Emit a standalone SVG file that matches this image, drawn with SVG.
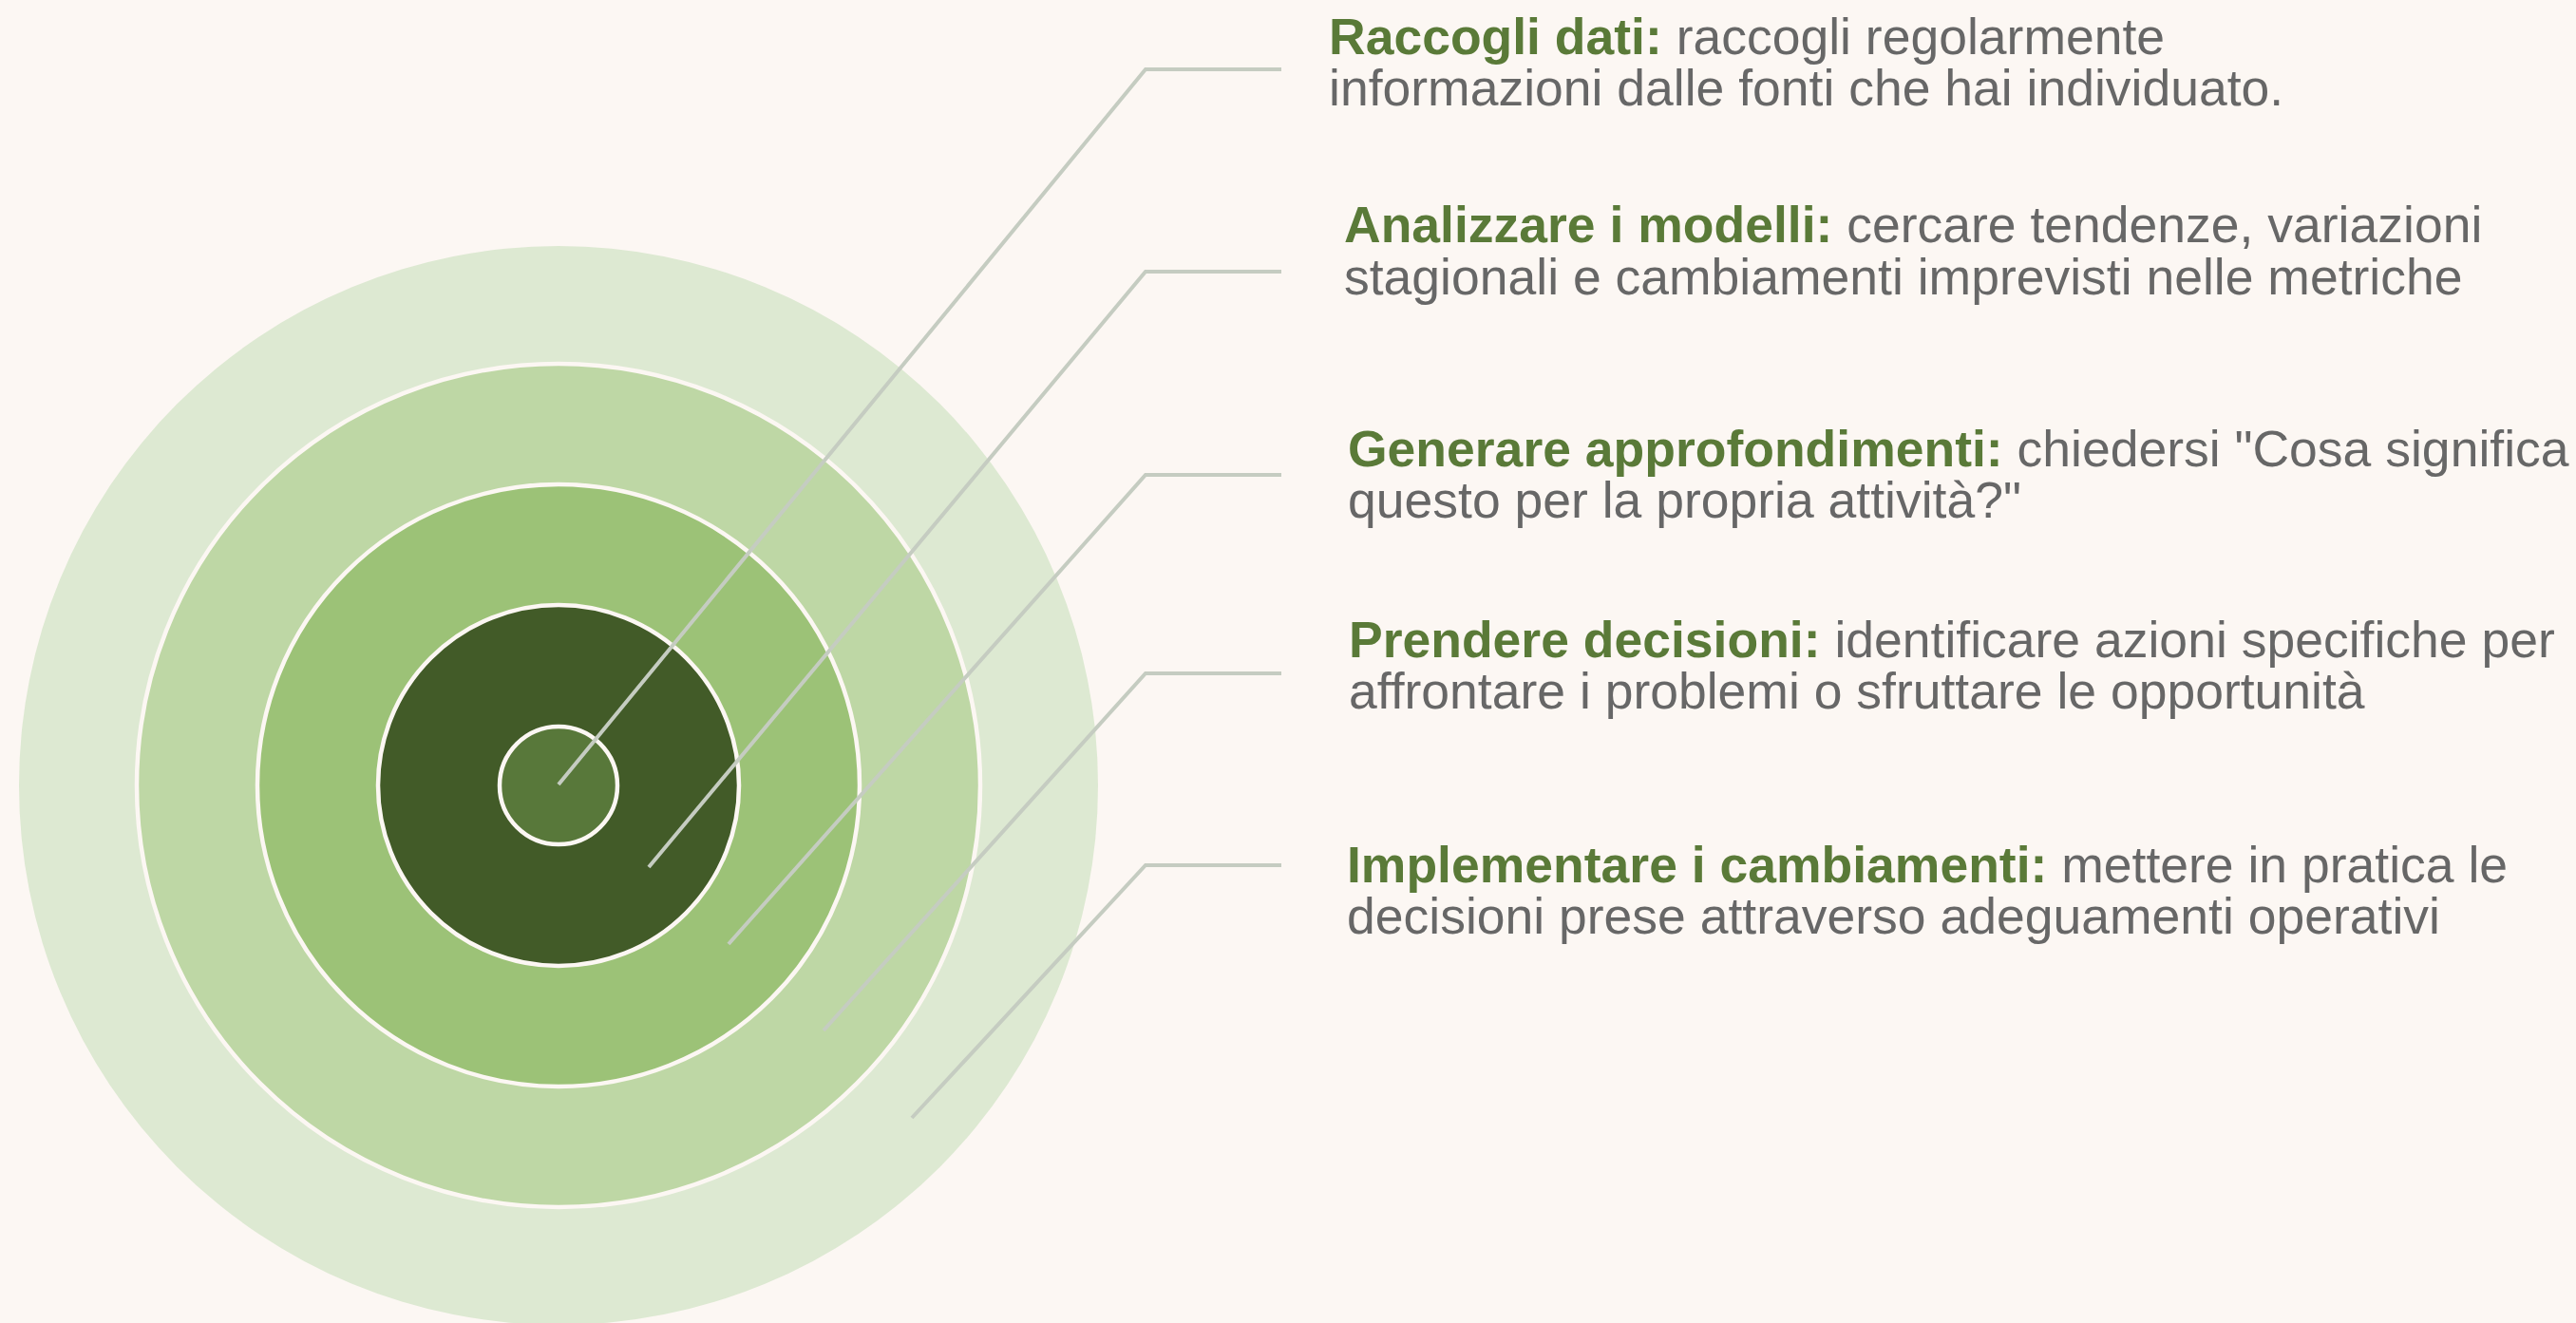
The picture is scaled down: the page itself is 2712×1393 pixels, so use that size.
<svg xmlns="http://www.w3.org/2000/svg" width="2712" height="1393" viewBox="0 0 2712 1393">
<style>
.ring{stroke:#fcf7f3;stroke-width:4.5}
.conn{fill:none;stroke:#c5ccc1;stroke-width:4;stroke-linejoin:miter}
.txt{font-family:"Liberation Sans",Arial,sans-serif;font-size:53.5px;fill:#676767}
.hd{font-weight:bold;fill:#5a7a38}
</style>
<rect width="2712" height="1393" fill="#fcf7f3"/>
<g id="rings">
<circle id="ring5" cx="588" cy="827" r="568" fill="#dde9d2"/>
<circle id="ring4" class="ring" cx="588" cy="827" r="444" fill="#bed7a5"/>
<circle id="ring3" class="ring" cx="588" cy="827" r="317" fill="#9cc277"/>
<circle id="ring2" class="ring" cx="588" cy="827" r="190" fill="#425b28"/>
<circle id="ring1" class="ring" cx="588" cy="827" r="62" fill="#58783a"/>
</g>
<g id="connectors">
<polyline class="conn" points="588,826 1206,73 1349,73"/>
<polyline class="conn" points="683,913 1206,286 1349,286"/>
<polyline class="conn" points="767,994 1206,500 1349,500"/>
<polyline class="conn" points="867,1085 1206,709 1349,709"/>
<polyline class="conn" points="960,1177 1206,911 1349,911"/>
</g>
<g id="label1" class="txt">
<text x="1399" y="57"><tspan class="hd">Raccogli dati:</tspan> raccogli regolarmente</text>
<text x="1399" y="111">informazioni dalle fonti che hai individuato.</text>
</g>
<g id="label2" class="txt">
<text x="1415" y="254.5"><tspan class="hd">Analizzare i modelli:</tspan> cercare tendenze, variazioni</text>
<text x="1415" y="309.5">stagionali e cambiamenti imprevisti nelle metriche</text>
</g>
<g id="label3" class="txt">
<text x="1419" y="491"><tspan class="hd">Generare approfondimenti:</tspan> chiedersi "Cosa significa</text>
<text x="1419" y="545">questo per la propria attività?"</text>
</g>
<g id="label4" class="txt">
<text x="1420" y="692"><tspan class="hd">Prendere decisioni:</tspan> identificare azioni specifiche per</text>
<text x="1420" y="746">affrontare i problemi o sfruttare le opportunità</text>
</g>
<g id="label5" class="txt">
<text x="1418" y="929"><tspan class="hd">Implementare i cambiamenti:</tspan> mettere in pratica le</text>
<text x="1418" y="983">decisioni prese attraverso adeguamenti operativi</text>
</g>
</svg>
